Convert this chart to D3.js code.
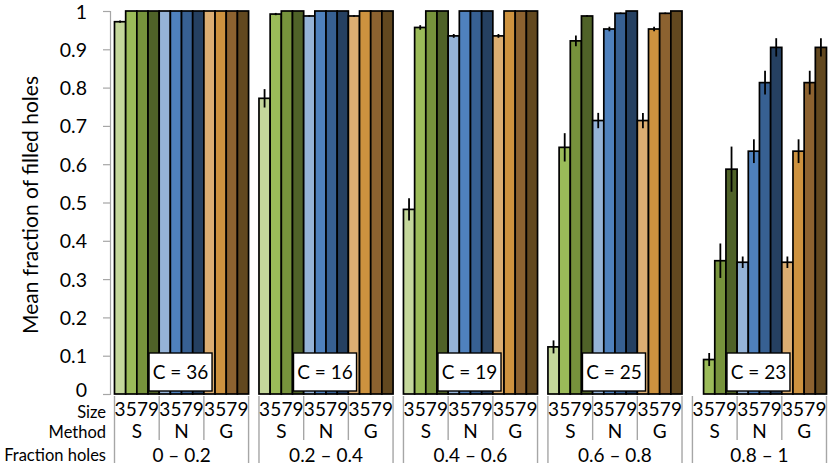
<!DOCTYPE html>
<html><head><meta charset="utf-8">
<script src="https://cdnjs.cloudflare.com/ajax/libs/d3/7.8.5/d3.min.js"></script>
<style>body{margin:0;background:#fff}svg{display:block}text{font-family:Lato,"Open Sans",sans-serif;fill:#000}</style>
</head><body><svg id="c" width="835" height="467"></svg>
<script>
const fractions = ["0 \u2013 0.2","0.2 \u2013 0.4","0.4 \u2013 0.6","0.6 \u2013 0.8","0.8 \u2013 1"];
const methods = ["S","N","G"];
const sizes = ["3","5","7","9"];
const counts = [36,16,19,25,23];
const valuesS = [[0.972,1,1,1],[0.772,0.992,1,1],[0.482,0.957,1,1],[0.123,0.644,0.922,0.987],[0,0.09,0.348,0.587]];
const valuesN = [[1,1,1,1],[0.987,1,1,1],[0.935,1,1,1],[0.714,0.953,0.994,1],[0.344,0.634,0.813,0.905]];
const valuesG = [[1,1,1,1],[0.987,1,1,1],[0.935,1,1,1],[0.714,0.953,0.994,1],[0.344,0.634,0.813,0.905]];
const errS = [[0.003,0,0,0],[0.024,0.003,0,0],[0.029,0.006,0,0],[0.017,0.037,0.014,0.002],[0,0.017,0.045,0.059]];
const errN = [[0,0,0,0],[0.002,0,0,0],[0.005,0,0,0],[0.02,0.006,0.002,0],[0.015,0.031,0.031,0.024]];
const errG = [[0,0,0,0],[0.002,0,0,0],[0.005,0,0,0],[0.02,0.006,0.002,0],[0.015,0.031,0.031,0.024]];
const yTicks = [0,0.1,0.2,0.3,0.4,0.5,0.6,0.7,0.8,0.9,1];
const colorsS = ["#c4d79b","#9bbb59","#77933c","#4f6228"];
const colorsN = ["#95b3d7","#4f81bd","#376092","#254061"];
const colorsG = ["#dcae72","#cd923f","#8c6230","#62481f"];

const vals = {S:valuesS,N:valuesN,G:valuesG};
const errs = {S:errS,N:errN,G:errG};
const cols = {S:colorsS,N:colorsN,G:colorsG};

const svg = d3.select("#c");
const y = d3.scaleLinear().domain([0,1]).range([394,11]);
const xP = d3.scaleBand().domain(fractions).range([114.5,826.5]).paddingInner(0.072).paddingOuter(0);
const keys = [];
methods.forEach(m=>sizes.forEach(s=>keys.push(m+s)));
const xB = d3.scaleBand().domain(keys).range([0,xP.bandwidth()]).padding(0);
const grey = "#a6a6a6";

// y axis
const ax = svg.append("g").attr("transform","translate(110,0)")
  .call(d3.axisLeft(y).tickValues(yTicks).tickSize(7).tickFormat(d3.format("~g")));
ax.select(".domain").attr("stroke",grey).attr("stroke-width",1.2);
ax.selectAll(".tick line").attr("stroke",grey).attr("stroke-width",1.2);
ax.selectAll(".tick text").attr("x",-23).attr("font-size",19.5).attr("font-family","Lato")
  .attr("dy",d=>d===0?"0.15em":"0.36em");

svg.append("text").attr("transform","translate(38,205) rotate(-90)")
  .attr("text-anchor","middle").attr("font-size",21).text("Mean fraction of filled holes");

// bars
fractions.forEach((f,fi)=>{
  const g = svg.append("g").attr("transform",`translate(${xP(f)},0)`);
  const data = [];
  methods.forEach(m=>sizes.forEach((s,si)=>data.push({k:m+s,v:vals[m][fi][si],e:errs[m][fi][si],c:cols[m][si]})));
  g.selectAll("rect.bar").data(data).join("rect").attr("class","bar")
    .attr("x",d=>xB(d.k)).attr("width",xB.bandwidth())
    .attr("y",d=>y(d.v)).attr("height",d=>y(0)-y(d.v))
    .attr("fill",d=>d.c).attr("stroke","#000").attr("stroke-width",1.7);
  g.selectAll("line.err").data(data.filter(d=>d.e>0)).join("line").attr("class","err")
    .attr("x1",d=>xB(d.k)+xB.bandwidth()/2).attr("x2",d=>xB(d.k)+xB.bandwidth()/2)
    .attr("y1",d=>y(d.v+d.e)).attr("y2",d=>y(d.v-d.e))
    .attr("stroke","#000").attr("stroke-width",1.8);
  // count box
  const cx = xP.bandwidth()/2 - 1;
  g.append("rect").attr("x",cx-31.5).attr("y",353).attr("width",63).attr("height",38)
    .attr("fill","#fff").attr("stroke","#000").attr("stroke-width",1.4);
  g.append("text").attr("x",cx).attr("y",372).attr("dy","0.35em").attr("text-anchor","middle")
    .attr("font-size",19).text("C = "+counts[fi]);
  // table lines
  const bw = xP.bandwidth();
  [0,bw].forEach(xx=>g.append("line").attr("x1",xx).attr("x2",xx).attr("y1",396).attr("y2",463)
    .attr("stroke",grey).attr("stroke-width",1.4));
  [1,2].forEach(i=>{const xx = xB(methods[i]+sizes[0]);
    g.append("line").attr("x1",xx).attr("x2",xx).attr("y1",396).attr("y2",440)
    .attr("stroke",grey).attr("stroke-width",1.4);});
  // size labels
  g.selectAll("text.sz").data(data).join("text").attr("class","sz")
    .attr("x",d=>xB(d.k)+xB.bandwidth()/2).attr("y",409).attr("dy","0.35em")
    .attr("text-anchor","middle").attr("font-size",19).text(d=>d.k.slice(1));
  methods.forEach(m=>{
    const x0 = xB(m+sizes[0]), x1 = xB(m+sizes[3])+xB.bandwidth();
    g.append("text").attr("x",(x0+x1)/2).attr("y",431).attr("dy","0.35em")
      .attr("text-anchor","middle").attr("font-size",19).text(m);
  });
  g.append("text").attr("x",bw/2).attr("y",455).attr("dy","0.35em")
    .attr("text-anchor","middle").attr("font-size",19).text(f);
});

[["Size",412],["Method",432],["Fraction holes",455]].forEach(([t,yy])=>
  svg.append("text").attr("x",106).attr("y",yy).attr("dy","0.35em").attr("text-anchor","end")
    .attr("font-size",16.5).text(t));
</script></body></html>
